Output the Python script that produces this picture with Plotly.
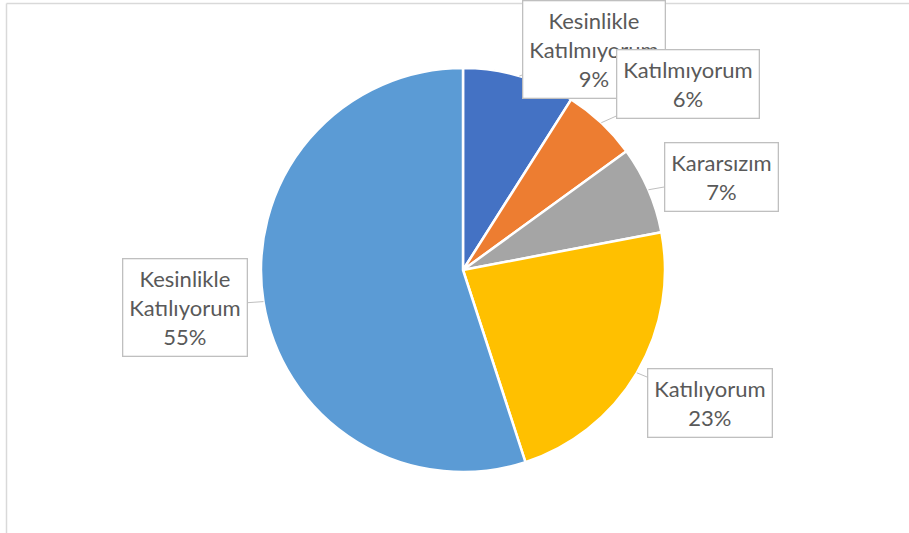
import math
import plotly.graph_objects as go

labels = ["Kesinlikle<br>Katılmıyorum", "Katılmıyorum", "Kararsızım", "Katılıyorum", "Kesinlikle<br>Katılıyorum"]
values = [9, 6, 7, 23, 55]
colors = ["#4472C4", "#ED7D31", "#A5A5A5", "#FFC000", "#5B9BD5"]

W, H = 909, 533
# pie placement (pixels)
cx, cy, R = 463, 270, 202
dom_x = [(cx - R) / W, (cx + R) / W]
dom_y = [1 - (cy + R) / H, 1 - (cy - R) / H]

# label box centres (pixels)
box_centres = [(594, 50), (688, 84), (721, 177), (710, 403), (185, 307)]

fig = go.Figure(go.Pie(
    labels=labels, values=values, sort=False, direction="clockwise", rotation=0,
    marker=dict(colors=colors, line=dict(color="white", width=2.5)),
    textinfo="none", hoverinfo="label+percent", showlegend=False,
    domain=dict(x=dom_x, y=dom_y),
))

total = sum(values)
cum = 0
annotations = []
for lab, v, (bx, by) in zip(labels, values, box_centres):
    mid = (cum + v / 2) / total * 2 * math.pi
    cum += v
    px = cx + R * math.sin(mid)
    py = cy - R * math.cos(mid)
    pct = round(v / total * 100)
    annotations.append(dict(
        x=px / W, y=1 - py / H, xref="paper", yref="paper",
        text=f"{lab}<br>{pct}%", showarrow=True, arrowhead=0, arrowwidth=1,
        arrowcolor="#BFBFBF", ax=bx - px, ay=by - py, axref="pixel", ayref="pixel",
        bgcolor="white", bordercolor="#BFBFBF", borderwidth=1.3, borderpad=6,
        font=dict(family="Lato, Open Sans, sans-serif", size=22, color="#595959"),
        align="center",
    ))

fig.update_layout(
    width=W, height=H, margin=dict(l=0, r=0, t=0, b=0),
    paper_bgcolor="white", plot_bgcolor="white",
    annotations=annotations,
    shapes=[
        dict(type="line", xref="paper", yref="paper", x0=6.5 / W, x1=1, y0=1 - 3.5 / H, y1=1 - 3.5 / H,
             line=dict(color="#D9D9D9", width=1.5)),
        dict(type="line", xref="paper", yref="paper", x0=6.5 / W, x1=6.5 / W, y0=0, y1=1 - 3.5 / H,
             line=dict(color="#D9D9D9", width=1.5)),
    ],
)

fig.write_html("out.html", config={"displayModeBar": False},
               post_script="document.body.style.margin='0';document.body.style.overflow='hidden';")
